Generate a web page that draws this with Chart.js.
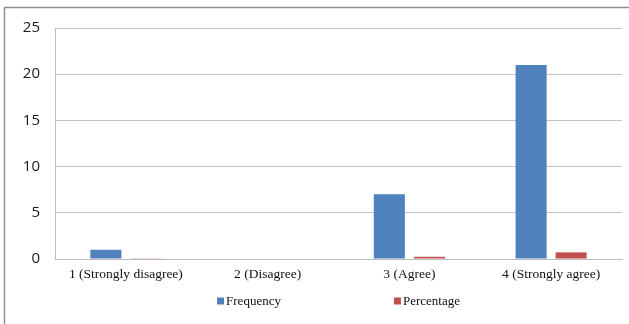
<!DOCTYPE html>
<html>
<head>
<meta charset="utf-8">
<script src="https://cdn.jsdelivr.net/npm/chart.js@4/dist/chart.umd.min.js"></script>
<style>
  html, body { margin: 0; padding: 0; background: #fff; }
  #wrap { position: relative; width: 629px; height: 324px; }
</style>
</head>
<body>
<div id="wrap"><canvas id="chart" width="629" height="324"></canvas></div>
<script>
// Survey responses per answer option
const categories = ['1 (Strongly disagree)', '2 (Disagree)', '3 (Agree)', '4 (Strongly agree)'];
const frequency = [1, 0, 7, 21];
const percentage = [0.03, 0, 0.24, 0.72];
const yTicks = [0, 5, 10, 15, 20, 25];

const seriesNames = ['Frequency', 'Percentage'];
const seriesColors = ['#4F81BD', '#C0504D'];

// Frame around the figure and a legend row drawn below the axis
const framePlugin = {
  id: 'frame',
  afterDraw(chart) {
    const ctx = chart.ctx;
    const area = chart.chartArea;
    ctx.save();
    ctx.strokeStyle = '#8f8f8f';
    ctx.lineWidth = 1.5;
    ctx.strokeRect(4.5, 7.5, 700, 400);

    ctx.font = '13px "Liberation Serif", "Times New Roman", serif';
    ctx.textBaseline = 'middle';
    ctx.textAlign = 'left';
    const box = 7, gapText = 2, gapItem = 113;
    const widths = seriesNames.map(n => box + gapText + ctx.measureText(n).width);
    const total = widths[0] + gapItem + widths[1];
    let x = (area.left + area.right) / 2 - total / 2;
    const y = 301;
    seriesNames.forEach((name, i) => {
      ctx.fillStyle = seriesColors[i];
      ctx.fillRect(x, y - box / 2, box, box);
      ctx.fillStyle = '#111';
      ctx.fillText(name, x + box + gapText, y + 0.5);
      x += widths[i] + gapItem;
    });
    ctx.restore();
  }
};

new Chart(document.getElementById('chart'), {
  type: 'bar',
  data: {
    labels: categories,
    datasets: [
      { label: seriesNames[0], data: frequency, backgroundColor: seriesColors[0],
        barPercentage: 0.775, categoryPercentage: 0.565 },
      { label: seriesNames[1], data: percentage, backgroundColor: seriesColors[1],
        barPercentage: 0.775, categoryPercentage: 0.565 }
    ]
  },
  options: {
    responsive: false,
    animation: false,
    layout: { padding: { top: 28, right: 7, left: 0, bottom: 0 } },
    plugins: {
      legend: { display: false },
      tooltip: { enabled: false }
    },
    scales: {
      x: {
        grid: { display: false, drawTicks: false },
        border: { display: true, color: '#bdbdbd', width: 1 },
        ticks: {
          color: '#111',
          padding: 7,
          maxRotation: 0,
          autoSkip: false,
          font: { family: '"Liberation Serif", "Times New Roman", serif', size: 13.5 }
        },
        afterFit(scale) { scale.height = 65; }
      },
      y: {
        min: 0,
        max: 25,
        afterBuildTicks(scale) { scale.ticks = yTicks.map(v => ({ value: v })); },
        grid: { color: '#c4c4c4', lineWidth: 1, drawTicks: false },
        border: { display: true, color: '#bdbdbd', width: 1 },
        ticks: {
          color: '#1a1a1a',
          padding: 15,
          font: { family: '"Open Sans", sans-serif', size: 15 }
        },
        afterFit(scale) { scale.width = 55; }
      }
    }
  },
  plugins: [framePlugin]
});
</script>
</body>
</html>
